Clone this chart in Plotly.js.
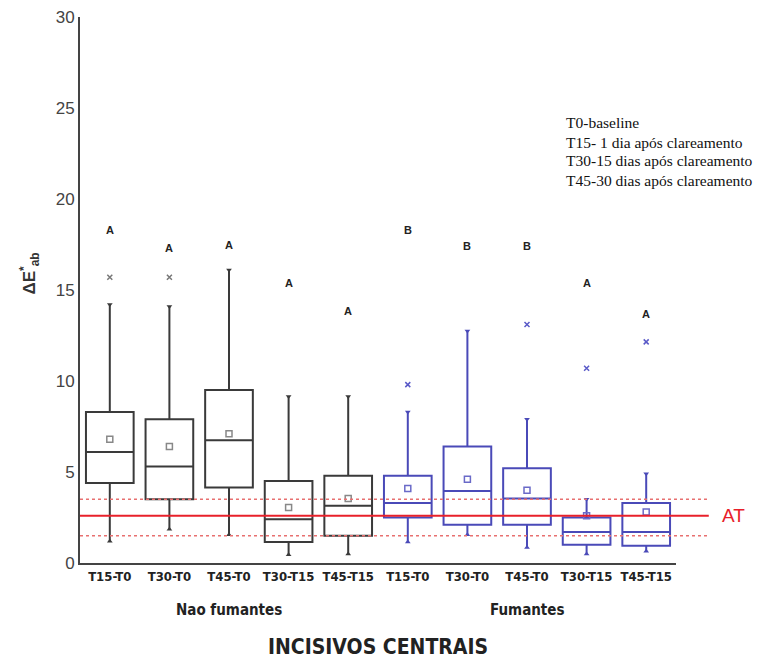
<!DOCTYPE html>
<html>
<head>
<meta charset="utf-8">
<script src="https://cdn.plot.ly/plotly-3.0.1.min.js"></script>
<style>html,body{margin:0;padding:0;background:#fff;}#chart{width:768px;height:663px;}</style>
</head>
<body>
<div id="chart"></div>
<script>
// ---- data ----
const categories = ["T15-T0","T30-T0","T45-T0","T30-T15","T45-T15","T15-T0","T30-T0","T45-T0","T30-T15","T45-T15"];
const groupLabels = ["Nao fumantes","Fumantes"];
// Non-smokers (black), smokers (blue)
const q1Non      = [4.4, 3.5, 4.15, 1.15, 1.5];
const medianNon  = [6.1, 5.3, 6.75, 2.4, 3.15];
const q3Non      = [8.3, 7.9, 9.5, 4.5, 4.8];
const lowNon     = [1.2, 1.85, 1.55, 0.45, 0.5];
const highNon    = [14.2, 14.1, 16.1, 9.15, 9.15];
const meanNon    = [6.8, 6.4, 7.1, 3.05, 3.55];
const outlierNon = [15.7, 15.7, null, null, null];

const q1Fum      = [2.5, 2.1, 2.1, 1.0, 0.95];
const medianFum  = [3.3, 3.95, 3.55, 1.7, 1.7];
const q3Fum      = [4.8, 6.4, 5.2, 2.5, 3.3];
const lowFum     = [1.15, 1.55, 0.85, 0.5, 0.65];
const highFum    = [8.3, 12.75, 7.9, 3.5, 4.9];
const meanFum    = [4.1, 4.6, 4.0, 2.6, 2.8];
const outlierFum = [9.8, null, 13.1, 10.7, 12.15];

const letters  = ["A","A","A","A","A","B","B","B","A","A"];
const letterY  = [18.3, 17.3, 17.5, 15.4, 13.85, 18.3, 17.4, 17.4, 15.4, 13.7];

const atValue = 2.6, atUpper = 3.5, atLower = 1.5;
const legendLines = ["T0-baseline","T15- 1 dia após clareamento","T30-15 dias após clareamento","T45-30 dias após clareamento"];
const xTitle = "INCISIVOS CENTRAIS";

// ---- build ----
const xNon = [0,1,2,3,4];
const xFum = [5,6,7,8,9];
const black = "#3a3a3a", blue = "#4a4ab8";
const narrow = "'Liberation Sans Narrow','Arial Narrow','DejaVu Sans Condensed',Arial,sans-serif";

function boxTrace(x, q1, med, q3, lo, hi, col){
  return {type:"box", x:x, q1:q1, median:med, q3:q3, lowerfence:lo, upperfence:hi,
    width:0.8, boxpoints:false, whiskerwidth:0, line:{color:col, width:2},
    fillcolor:"rgba(255,255,255,0)", hoverinfo:"skip", showlegend:false};
}
function sc(x, y, sym, col, size, lw){
  return {type:"scatter", mode:"markers", x:x, y:y, showlegend:false, hoverinfo:"skip",
    marker:{symbol:sym, color:col, size:size, line:{color:col, width:lw}}};
}
const traces = [
  boxTrace(xNon, q1Non, medianNon, q3Non, lowNon, highNon, black),
  boxTrace(xFum, q1Fum, medianFum, q3Fum, lowFum, highFum, blue),
  sc(xNon, meanNon, "square-open", "#888", 6, 1.5),
  sc(xFum, meanFum, "square-open", "#6a6ac8", 6, 1.5),
  sc(xNon, outlierNon, "x-thin", "#777", 5, 1.5),
  sc(xFum, outlierFum, "x-thin", "#5a5ac8", 5, 1.5),
  sc(xNon, highNon, "triangle-down", black, 5, 0),
  sc(xFum, highFum, "triangle-down", blue, 5, 0),
  sc(xNon, lowNon, "triangle-up", black, 5, 0),
  sc(xFum, lowFum, "triangle-up", blue, 5, 0)
];

const annotations = [];
categories.forEach((c,i)=>{
  annotations.push({x:i, y:letterY[i], xref:"x", yref:"y", text:letters[i], showarrow:false,
    font:{family:"Arial,sans-serif", size:11, color:"#222", weight:"bold"}});
});
annotations.push({x:2, y:-0.086, xref:"x", yref:"paper", yanchor:"middle", text:groupLabels[0], showarrow:false,
  font:{family:narrow, size:15, color:"#222", weight:"bold"}});
annotations.push({x:7, y:-0.086, xref:"x", yref:"paper", yanchor:"middle", text:groupLabels[1], showarrow:false,
  font:{family:narrow, size:15, color:"#222", weight:"bold"}});
annotations.push({x:0.5, y:-0.154, xref:"paper", yref:"paper", xanchor:"center", yanchor:"middle", text:xTitle, showarrow:false,
  font:{family:narrow, size:21, color:"#222", weight:"bold"}});
annotations.push({x:-0.084, y:0.53, xref:"paper", yref:"paper", xanchor:"center", yanchor:"middle",
  text:"ΔE<sup>*</sup><sub>ab</sub>", showarrow:false,
  textangle:-90, font:{family:"Arial,sans-serif", size:17, color:"#333", weight:"bold"}});
annotations.push({x:1.097, y:atValue, xref:"paper", yref:"y", xanchor:"center", yanchor:"middle", text:"AT", showarrow:false,
  font:{family:"Arial,sans-serif", size:19, color:"#e8202a"}});
const legY = [123,142,161,180];
legendLines.forEach((t,i)=>{
  annotations.push({x:0.812, y:(563-legY[i])/546, xref:"paper", yref:"paper", xanchor:"left", yanchor:"middle",
    text:t, showarrow:false, font:{family:"'Liberation Serif','Times New Roman',serif", size:15.5, color:"#111"}});
});

const shapes = [
  {type:"line", xref:"paper", yref:"y", x0:0, x1:1.055, y0:atValue, y1:atValue, line:{color:"#e8202a", width:2}},
  {type:"line", xref:"paper", yref:"y", x0:0, x1:1.055, y0:atUpper, y1:atUpper, line:{color:"#e87070", width:1.5, dash:"dot"}},
  {type:"line", xref:"paper", yref:"y", x0:0, x1:1.055, y0:atLower, y1:atLower, line:{color:"#e87070", width:1.5, dash:"dot"}}
];

const layout = {
  width:768, height:663,
  margin:{l:80, r:92, t:17, b:100},
  paper_bgcolor:"#fff", plot_bgcolor:"#fff",
  showlegend:false, boxmode:"overlay",
  xaxis:{range:[-0.5,9.5], tickvals:[0,1,2,3,4,5,6,7,8,9], ticktext:categories,
    showline:true, linecolor:"#444", linewidth:2, showgrid:false, zeroline:false, ticks:"",
    tickfont:{family:narrow, size:13, color:"#222", weight:"bold"}, fixedrange:true},
  yaxis:{range:[0,30], tickvals:[0,5,10,15,20,25,30], showline:true, linecolor:"#444", linewidth:2,
    showgrid:false, zeroline:false, ticks:"", tickfont:{family:"Arial,sans-serif", size:17, color:"#444"},
    fixedrange:true},
  annotations:annotations,
  shapes:shapes
};
Plotly.newPlot("chart", traces, layout, {staticPlot:true});
</script>
</body>
</html>
